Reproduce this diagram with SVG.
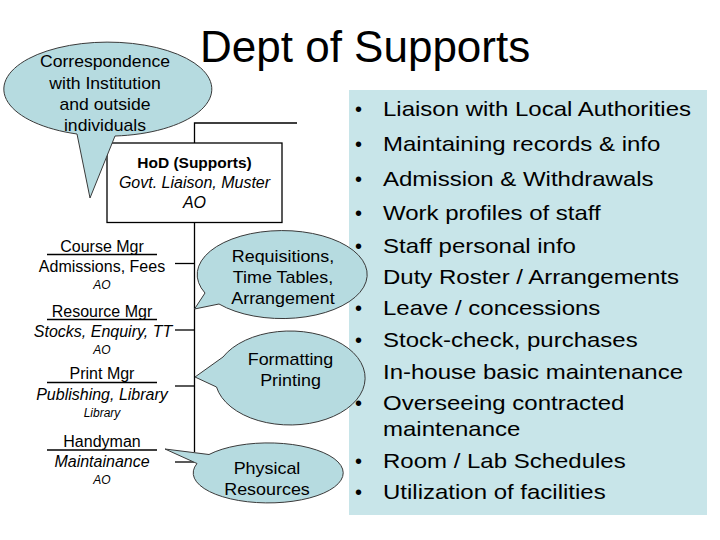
<svg xmlns="http://www.w3.org/2000/svg" width="720" height="540" viewBox="0 0 720 540">
<style>
.t{font-family:"Liberation Sans",Arial,Helvetica,sans-serif;fill:#000}
.m{text-anchor:middle}
.i{font-style:italic}
.b{font-weight:bold}
.callout{fill:#b6dbe0;stroke:#3a3a3a;stroke-width:1}
.ln{stroke:#000;stroke-width:1.3;fill:none}
</style>
<rect width="720" height="540" fill="#fff"/>

<g id="title">
<text class="t" x="200" y="62" font-size="44">Dept of Supports</text>
</g>

<g id="panel">
<rect x="349" y="90" width="358" height="425" fill="#c8e5e9"/>
<g class="t" font-size="20">
<text x="355" y="116">•</text>
<text x="355" y="151">•</text>
<text x="355" y="186">•</text>
<text x="355" y="220">•</text>
<text x="355" y="253">•</text>
<text x="355" y="315">•</text>
<text x="355" y="347">•</text>
<text x="355" y="410">•</text>
<text x="355" y="468">•</text>
<text x="355" y="499">•</text>
</g>
<g class="t" font-size="20" transform="translate(383 0) scale(1.2 1)">
<text x="0" y="116">Liaison with Local Authorities</text>
<text x="0" y="151">Maintaining records &amp; info</text>
<text x="0" y="186">Admission &amp; Withdrawals</text>
<text x="0" y="220">Work profiles of staff</text>
<text x="0" y="253">Staff personal info</text>
<text x="0" y="284">Duty Roster / Arrangements</text>
<text x="0" y="315">Leave / concessions</text>
<text x="0" y="347">Stock-check, purchases</text>
<text x="0" y="379">In-house basic maintenance</text>
<text x="0" y="410">Overseeing contracted</text>
<text x="0" y="436">maintenance</text>
<text x="0" y="468">Room / Lab Schedules</text>
<text x="0" y="499">Utilization of facilities</text>
</g>
</g>

<g id="connectors">
<polyline class="ln" points="297,123 194.5,123 194.5,143"/>
<line class="ln" x1="194.5" y1="222.5" x2="194.5" y2="452"/>
<line class="ln" x1="175" y1="263.5" x2="194.5" y2="263.5"/>
<line class="ln" x1="175" y1="330" x2="194.5" y2="330"/>
<line class="ln" x1="175" y1="386" x2="194.5" y2="386"/>
<line class="ln" x1="175" y1="462" x2="194" y2="462"/>
</g>

<g id="hod">
<rect x="107" y="143" width="175" height="79.5" fill="#fff" stroke="#000" stroke-width="1.3"/>
<text class="t m b" x="194.5" y="168" font-size="15.5">HoD (Supports)</text>
<text class="t m i" x="194.5" y="188" font-size="16">Govt. Liaison, Muster</text>
<text class="t m i" x="194.5" y="208" font-size="16">AO</text>
</g>

<g id="course-mgr">
<line class="ln" x1="47" y1="254.5" x2="157" y2="254.5"/>
<text class="t m" x="102" y="252" font-size="16">Course Mgr</text>
<text class="t m" x="102" y="272" font-size="16">Admissions, Fees</text>
<text class="t m i" x="102" y="289" font-size="12">AO</text>
</g>

<g id="resource-mgr">
<line class="ln" x1="47" y1="319.5" x2="157" y2="319.5"/>
<text class="t m" x="102" y="317" font-size="16">Resource Mgr</text>
<text class="t m i" x="103" y="337" font-size="16">Stocks, Enquiry, TT</text>
<text class="t m i" x="102" y="354" font-size="12">AO</text>
</g>

<g id="print-mgr">
<line class="ln" x1="47" y1="382.5" x2="157" y2="382.5"/>
<text class="t m" x="102" y="379" font-size="16">Print Mgr</text>
<text class="t m i" x="102" y="400" font-size="16">Publishing, Library</text>
<text class="t m i" x="102" y="417" font-size="12">Library</text>
</g>

<g id="handyman">
<line class="ln" x1="47" y1="450" x2="157" y2="450"/>
<text class="t m" x="102" y="447" font-size="16">Handyman</text>
<text class="t m i" x="102" y="467" font-size="16">Maintainance</text>
<text class="t m i" x="102" y="484" font-size="12">AO</text>
</g>

<g id="callout-correspondence">
<path class="callout" d="M77,134 A104,47 0 1 1 115,136 L90,198 Z"/>
<g class="t m" font-size="16" transform="translate(105 0) scale(1.1 1)">
<text x="0" y="67">Correspondence</text>
<text x="0" y="89">with Institution</text>
<text x="0" y="110">and outside</text>
<text x="0" y="131">individuals</text>
</g>
</g>

<g id="callout-requisitions">
<path class="callout" d="M205,293 A85,44 0 1 1 219,304 L194.5,309 Z"/>
<g class="t m" font-size="16" transform="translate(283 0) scale(1.12 1)">
<text x="0" y="262">Requisitions,</text>
<text x="0" y="283">Time Tables,</text>
<text x="0" y="304">Arrangement</text>
</g>
</g>

<g id="callout-formatting">
<path class="callout" d="M223,357 A75,47 0 1 1 216.5,387 L195,377 Z"/>
<g class="t m" font-size="16" transform="translate(290.5 0) scale(1.12 1)">
<text x="0" y="365">Formatting</text>
<text x="0" y="386">Printing</text>
</g>
</g>

<g id="callout-physical">
<path class="callout" d="M209,454.5 A75,30 0 1 1 197,463.5 L165,449 Z"/>
<g class="t m" font-size="16" transform="translate(267 0) scale(1.12 1)">
<text x="0" y="474">Physical</text>
<text x="0" y="495">Resources</text>
</g>
</g>
</svg>
